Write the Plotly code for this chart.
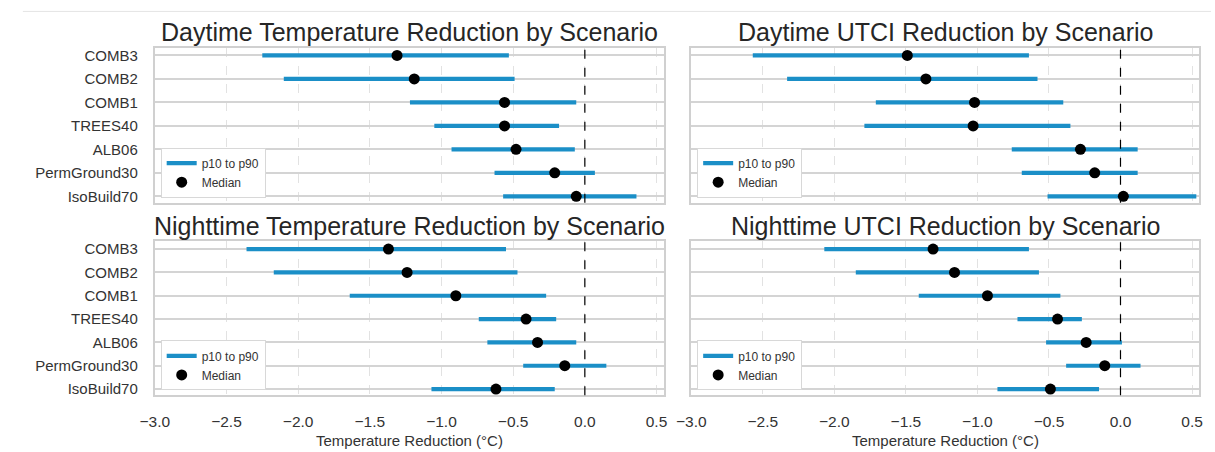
import plotly.graph_objects as go
from plotly.subplots import make_subplots

# Scenarios listed top to bottom
scenarios = ["COMB3", "COMB2", "COMB1", "TREES40", "ALB06", "PermGround30", "IsoBuild70"]

# Daytime air temperature reduction (°C)
day_temp_p10 = [-2.25, -2.10, -1.22, -1.05, -0.93, -0.63, -0.57]
day_temp_med = [-1.31, -1.19, -0.56, -0.56, -0.48, -0.21, -0.06]
day_temp_p90 = [-0.53, -0.49, -0.06, -0.18, -0.07, 0.07, 0.36]

# Daytime UTCI reduction (°C)
day_utci_p10 = [-2.57, -2.33, -1.71, -1.79, -0.76, -0.69, -0.51]
day_utci_med = [-1.49, -1.36, -1.02, -1.03, -0.28, -0.18, 0.02]
day_utci_p90 = [-0.64, -0.58, -0.40, -0.35, 0.12, 0.12, 0.53]

# Nighttime air temperature reduction (°C)
night_temp_p10 = [-2.36, -2.17, -1.64, -0.74, -0.68, -0.43, -1.07]
night_temp_med = [-1.37, -1.24, -0.90, -0.41, -0.33, -0.14, -0.62]
night_temp_p90 = [-0.55, -0.47, -0.27, -0.20, -0.06, 0.15, -0.21]

# Nighttime UTCI reduction (°C)
night_utci_p10 = [-2.07, -1.85, -1.41, -0.72, -0.52, -0.38, -0.86]
night_utci_med = [-1.31, -1.16, -0.93, -0.44, -0.24, -0.11, -0.49]
night_utci_p90 = [-0.64, -0.57, -0.42, -0.27, 0.01, 0.14, -0.15]

panel_titles = [
    "Daytime Temperature Reduction by Scenario",
    "Daytime UTCI Reduction by Scenario",
    "Nighttime Temperature Reduction by Scenario",
    "Nighttime UTCI Reduction by Scenario",
]
x_tick_values = [-3.0, -2.5, -2.0, -1.5, -1.0, -0.5, 0.0, 0.5]
x_title = "Temperature Reduction (°C)"

W, H = 1215, 452
BLUE = "#1b8fc7"
FONT = "Arial, Liberation Sans, sans-serif"
TEXT = "#333333"

panels = [
    (1, 1, day_temp_p10, day_temp_med, day_temp_p90),
    (1, 2, day_utci_p10, day_utci_med, day_utci_p90),
    (2, 1, night_temp_p10, night_temp_med, night_temp_p90),
    (2, 2, night_utci_p10, night_utci_med, night_utci_p90),
]

# pixel frames of each panel: (left, right, top, bottom)
frames = [(142, 659, 47, 203), (687, 1203, 47, 203),
          (142, 659, 242, 397), (687, 1203, 242, 397)]

fig = make_subplots(rows=2, cols=2)

for i, (r, c, p10, med, p90) in enumerate(panels):
    legend_name = "legend" if i == 0 else f"legend{i + 1}"
    xs, ys = [], []
    for s, lo, hi in zip(scenarios, p10, p90):
        xs += [lo, hi, None]
        ys += [s, s, None]
    fig.add_trace(go.Scatter(
        x=xs, y=ys, mode="lines", name="p10 to p90",
        line=dict(color=BLUE, width=4.2), legend=legend_name,
    ), row=r, col=c)
    fig.add_trace(go.Scatter(
        x=med, y=scenarios, mode="markers", name="Median",
        marker=dict(color="black", size=11), legend=legend_name,
    ), row=r, col=c)
    fig.add_vline(x=0, line=dict(color="black", width=1.2, dash="dash"), row=r, col=c)

layout = {}
annotations = []
for i, (l, rgt, t, b) in enumerate(frames):
    suffix = "" if i == 0 else str(i + 1)
    top_row = i < 2
    left_col = i % 2 == 0
    layout[f"xaxis{suffix}"] = dict(
        domain=[l / W, rgt / W], range=[-3.0, 0.55],
        tickvals=x_tick_values,
        ticktext=[f"{v:.1f}".replace("-", "\u2212") for v in x_tick_values],
        showticklabels=not top_row, ticks="", ticklabelstandoff=11,
        tickfont=dict(family=FONT, size=15.5, color=TEXT),
        showgrid=True, gridcolor="#e2e2e2", griddash="dash", gridwidth=1,
        zeroline=False, showline=True, mirror=True,
        linecolor="#d0d0d0", linewidth=2,
    )
    layout[f"yaxis{suffix}"] = dict(
        domain=[1 - b / H, 1 - t / H],
        type="category", categoryarray=scenarios[::-1], categoryorder="array",
        range=[-0.27, 6.33],
        showticklabels=left_col, ticks="", ticklabelstandoff=12,
        tickfont=dict(family=FONT, size=15, color=TEXT),
        showgrid=True, gridcolor="#d4d4d4", gridwidth=1.5,
        zeroline=False, showline=True, mirror=True,
        linecolor="#d0d0d0", linewidth=2,
    )
    legend_name = "legend" if i == 0 else f"legend{i + 1}"
    layout[legend_name] = dict(
        x=(l + 6) / W, y=1 - (b - 5) / H, xanchor="left", yanchor="bottom",
        xref="paper", yref="paper",
        bgcolor="white", bordercolor="#d8d8d8", borderwidth=1,
        font=dict(family=FONT, size=12, color=TEXT),
        itemwidth=30, tracegroupgap=0,
    )
    annotations.append(dict(
        text=panel_titles[i], x=(l + rgt) / 2 / W, y=1 - (t - 16) / H,
        xref="paper", yref="paper", showarrow=False,
        xanchor="center", yanchor="middle",
        font=dict(family=FONT, size=25, color="#262626"),
    ))
    if not top_row:
        annotations.append(dict(
            text=x_title, x=(l + rgt) / 2 / W, y=1 - 442 / H,
            xref="paper", yref="paper", showarrow=False,
            xanchor="center", yanchor="middle",
            font=dict(family=FONT, size=15, color=TEXT),
        ))

fig.update_layout(
    **layout,
    annotations=annotations,
    width=W, height=H, autosize=False,
    margin=dict(l=0, r=0, t=0, b=0),
    paper_bgcolor="white", plot_bgcolor="white",
    showlegend=True,
)

# thin rule across the top of the page
fig.add_shape(type="line", xref="paper", yref="paper",
              x0=8 / W, x1=1.0, y0=1 - 10.5 / H, y1=1 - 10.5 / H,
              line=dict(color="#e4e4e4", width=1))

fig.write_html("out.html")
